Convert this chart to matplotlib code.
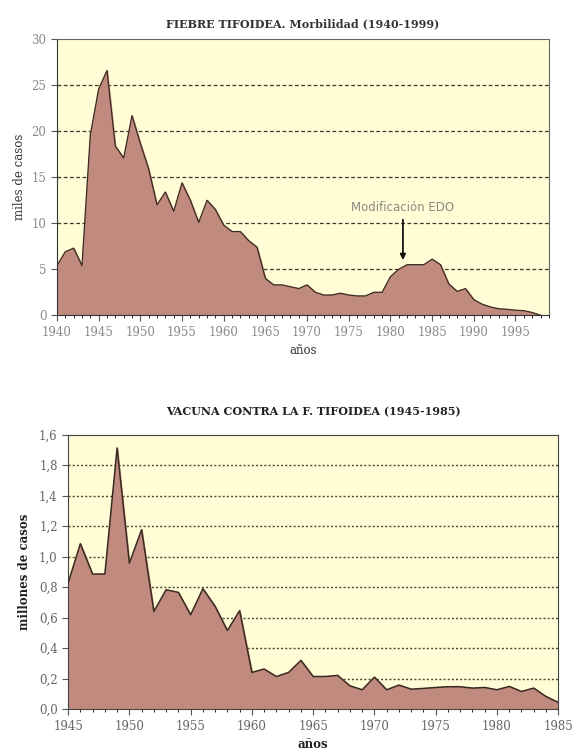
import numpy as np
import matplotlib.pyplot as plt
from matplotlib.ticker import MultipleLocator

# datos
anios_morb = list(range(1940, 1999))
casos_miles = [5.4, 6.9, 7.3, 5.4, 19.6, 24.6, 26.6, 18.4, 17.1, 21.7,
               18.7, 15.9, 12.0, 13.4, 11.3, 14.4, 12.5, 10.1, 12.5, 11.5,
               9.8, 9.1, 9.1, 8.1, 7.4, 4.0, 3.3, 3.3, 3.1, 2.9,
               3.3, 2.5, 2.2, 2.2, 2.4, 2.2, 2.1, 2.1, 2.5, 2.5,
               4.2, 5.0, 5.5, 5.5, 5.5, 6.1, 5.5, 3.4, 2.6, 2.9,
               1.7, 1.2, 0.9, 0.7, 0.65, 0.55, 0.5, 0.3, 0.0]

anios_vac = list(range(1945, 1986))
vacunas_mill = [0.827, 1.085, 0.886, 0.886, 1.713, 0.958, 1.177, 0.641, 0.783, 0.766,
                0.619, 0.790, 0.674, 0.516, 0.646, 0.241, 0.263, 0.214, 0.241, 0.32,
                0.214, 0.214, 0.221, 0.153, 0.127, 0.21, 0.127, 0.158, 0.131, 0.136,
                0.142, 0.147, 0.147, 0.138, 0.142, 0.127, 0.149, 0.116, 0.138, 0.083,
                0.044]

# etiquetas del eje y tal como aparecen en el original
yticks_vac = [0.0, 0.2, 0.4, 0.6, 0.8, 1.0, 1.2, 1.4, 1.6, 1.8]
ylabels_vac = ['0,0', '0,2', '0,4', '0,6', '0,8', '1,0', '1,2', '1,4', '1,8', '1,6']

fondo = '#fffcd6'
relleno = '#c08a7e'
borde = '#3a2a22'
gris = '#8a8a8a'
plt.rcParams['font.family'] = ['DejaVu Serif']

fig = plt.figure(figsize=(5.87, 7.56), dpi=100)

# ---- grafico 1 ----
ax1 = fig.add_axes([0.097, 0.583, 0.838, 0.365])
ax1.set_facecolor(fondo)
ax1.fill_between(anios_morb, casos_miles, 0, color=relleno, zorder=2)
ax1.plot(anios_morb, casos_miles, color=borde, lw=0.9, zorder=3)
ax1.set_xlim(1940, 1999)
ax1.set_ylim(0, 30)
ax1.xaxis.set_major_locator(MultipleLocator(5))
ax1.xaxis.set_minor_locator(MultipleLocator(1))
ax1.yaxis.set_major_locator(MultipleLocator(5))
for v in [5, 10, 15, 20, 25]:
    ax1.axhline(v, color='#3a3a30', lw=0.9, ls=(0, (3, 2)), zorder=1)
ax1.tick_params(axis='both', labelsize=8.5, labelcolor=gris, color='#555555')
ax1.tick_params(which='major', length=4)
ax1.tick_params(which='minor', length=2.5)
for s in ['left', 'bottom']:
    ax1.spines[s].set_color('#333333')
for s in ['top', 'right']:
    ax1.spines[s].set_color('#666666')
ax1.set_ylabel('miles de casos', fontsize=8.5, color='#333333', labelpad=4)
ax1.set_xlabel('años', fontsize=8.5, color='#333333', labelpad=4)
ax1.set_title('FIEBRE TIFOIDEA. Morbilidad (1940-1999)', fontsize=8,
              fontweight='bold', color='#333333', pad=9)
ax1.annotate('Modificación EDO', xy=(1981.5, 6.0), xytext=(1981.5, 11.0),
             ha='center', va='bottom', fontsize=8.5, color='#8a8a80',
             family='DejaVu Sans',
             arrowprops=dict(arrowstyle='-|>', color='#111111', lw=1.3,
                             mutation_scale=8, shrinkA=2, shrinkB=0))

# ---- grafico 2 ----
ax2 = fig.add_axes([0.116, 0.062, 0.835, 0.363])
ax2.set_facecolor(fondo)
ax2.fill_between(anios_vac, vacunas_mill, 0, color=relleno, zorder=2)
ax2.plot(anios_vac, vacunas_mill, color=borde, lw=1.1, zorder=3)
ax2.set_xlim(1945, 1985)
ax2.set_ylim(0, 1.8)
ax2.xaxis.set_major_locator(MultipleLocator(5))
ax2.xaxis.set_minor_locator(MultipleLocator(1))
ax2.set_yticks(yticks_vac)
ax2.set_yticklabels(ylabels_vac)
for v in yticks_vac[1:-1]:
    ax2.axhline(v, color='#4a4a3a', lw=1.0, ls=(0, (1.5, 1.5)), zorder=1)
ax2.tick_params(axis='both', labelsize=8.5, labelcolor='#666666', color='#555555')
ax2.tick_params(which='major', length=4)
ax2.tick_params(which='minor', length=2.5)
for s in ax2.spines.values():
    s.set_color('#444444')
ax2.set_ylabel('millones de casos', fontsize=8.5, fontweight='bold',
               color='#222222', labelpad=6)
ax2.set_xlabel('años', fontsize=8.5, fontweight='bold', color='#222222', labelpad=4)
ax2.set_title('VACUNA CONTRA LA F. TIFOIDEA (1945-1985)', fontsize=8,
              fontweight='bold', color='#222222', pad=14)

fig.savefig('out.png', dpi=100, facecolor='white')
